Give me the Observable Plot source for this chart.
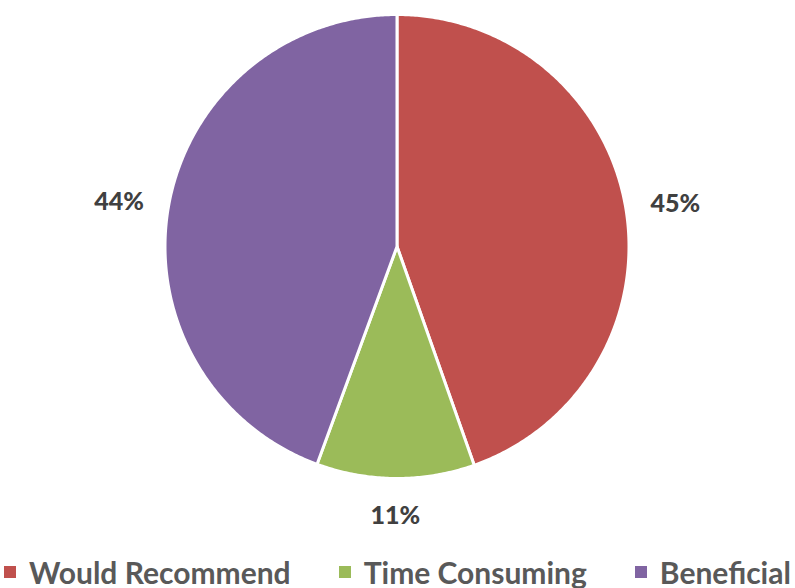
<!DOCTYPE html>
<html>
<head>
<meta charset="utf-8">
<script src="https://cdn.jsdelivr.net/npm/d3@7"></script>
<script src="https://cdn.jsdelivr.net/npm/@observablehq/plot@0.6"></script>
<style>
  html, body { margin: 0; padding: 0; background: #fff; }
  #wrap { width: 795px; height: 588px; overflow: hidden; position: relative; }
  #legend { position: absolute; left: 0; top: 552px; width: 795px; display: flex; justify-content: center; gap: 48px;
            font-family: Lato, "Open Sans", sans-serif; font-weight: bold; font-size: 30px; color: #595959; line-height: 40px; white-space: nowrap; }
  #legend .item { display: flex; align-items: center; }
  #legend .sw { width: 12px; height: 12px; margin-right: 13px; display: inline-block; }
</style>
</head>
<body>
<div id="wrap">
  <div id="chart"></div>
  <div id="legend"></div>
</div>
<script>
const categories = ["Would Recommend", "Time Consuming", "Beneficial"];
const values = [44.6, 11.0, 44.4];
const valueLabels = ["45%", "11%", "44%"];
const colors = ["#C0504D", "#9BBB59", "#8064A2"];

const W = 795, H = 548, R = 232, CX = 396.5, CY = 246;
const labelGap = 22, labelHalfW = 27, labelHalfH = 10;

const rows = categories.map((c, i) => ({ category: c, value: values[i], label: valueLabels[i] }));
const arcs = d3.pie().sort(null).value(d => d.value)(rows);

const pts = [];
for (const a of arcs) {
  const c = a.data.category;
  pts.push({ category: c, x: 0, y: 0 });
  const n = Math.max(2, Math.ceil((a.endAngle - a.startAngle) / (Math.PI / 360)));
  for (let k = 0; k <= n; k++) {
    const t = a.startAngle + (a.endAngle - a.startAngle) * k / n;
    pts.push({ category: c, x: Math.sin(t), y: Math.cos(t) });
  }
  pts.push({ category: c, x: 0, y: 0 });
}
const labs = arcs.map(a => {
  const m = (a.startAngle + a.endAngle) / 2;
  const s = Math.sin(m), co = Math.cos(m);
  const rr = (R + labelGap + Math.abs(s) * labelHalfW + Math.abs(co) * labelHalfH) / R;
  return { label: a.data.label, x: rr * s, y: rr * co };
});

const chart = Plot.plot({
  width: W, height: H,
  margin: 0,
  x: { domain: [-CX / R, (W - CX) / R], axis: null },
  y: { domain: [-(H - CY) / R, CY / R], axis: null },
  color: { domain: categories, range: colors },
  style: { fontFamily: "Lato, 'Open Sans', sans-serif", background: "#fff" },
  marks: [
    Plot.line(pts, { x: "x", y: "y", z: "category", fill: "category", stroke: "#fff", strokeWidth: 3, curve: "linear", strokeLinejoin: "round" }),
    Plot.text(labs, { x: "x", y: "y", dy: 5, text: "label", fontSize: 25, fontWeight: 900, fill: "#404040" })
  ]
});
document.getElementById("chart").appendChild(chart);

const legend = document.getElementById("legend");
categories.forEach((c, i) => {
  const item = document.createElement("span");
  item.className = "item";
  const sw = document.createElement("span");
  sw.className = "sw";
  sw.style.background = colors[i];
  item.appendChild(sw);
  item.appendChild(document.createTextNode(c));
  legend.appendChild(item);
});
</script>
</body>
</html>
